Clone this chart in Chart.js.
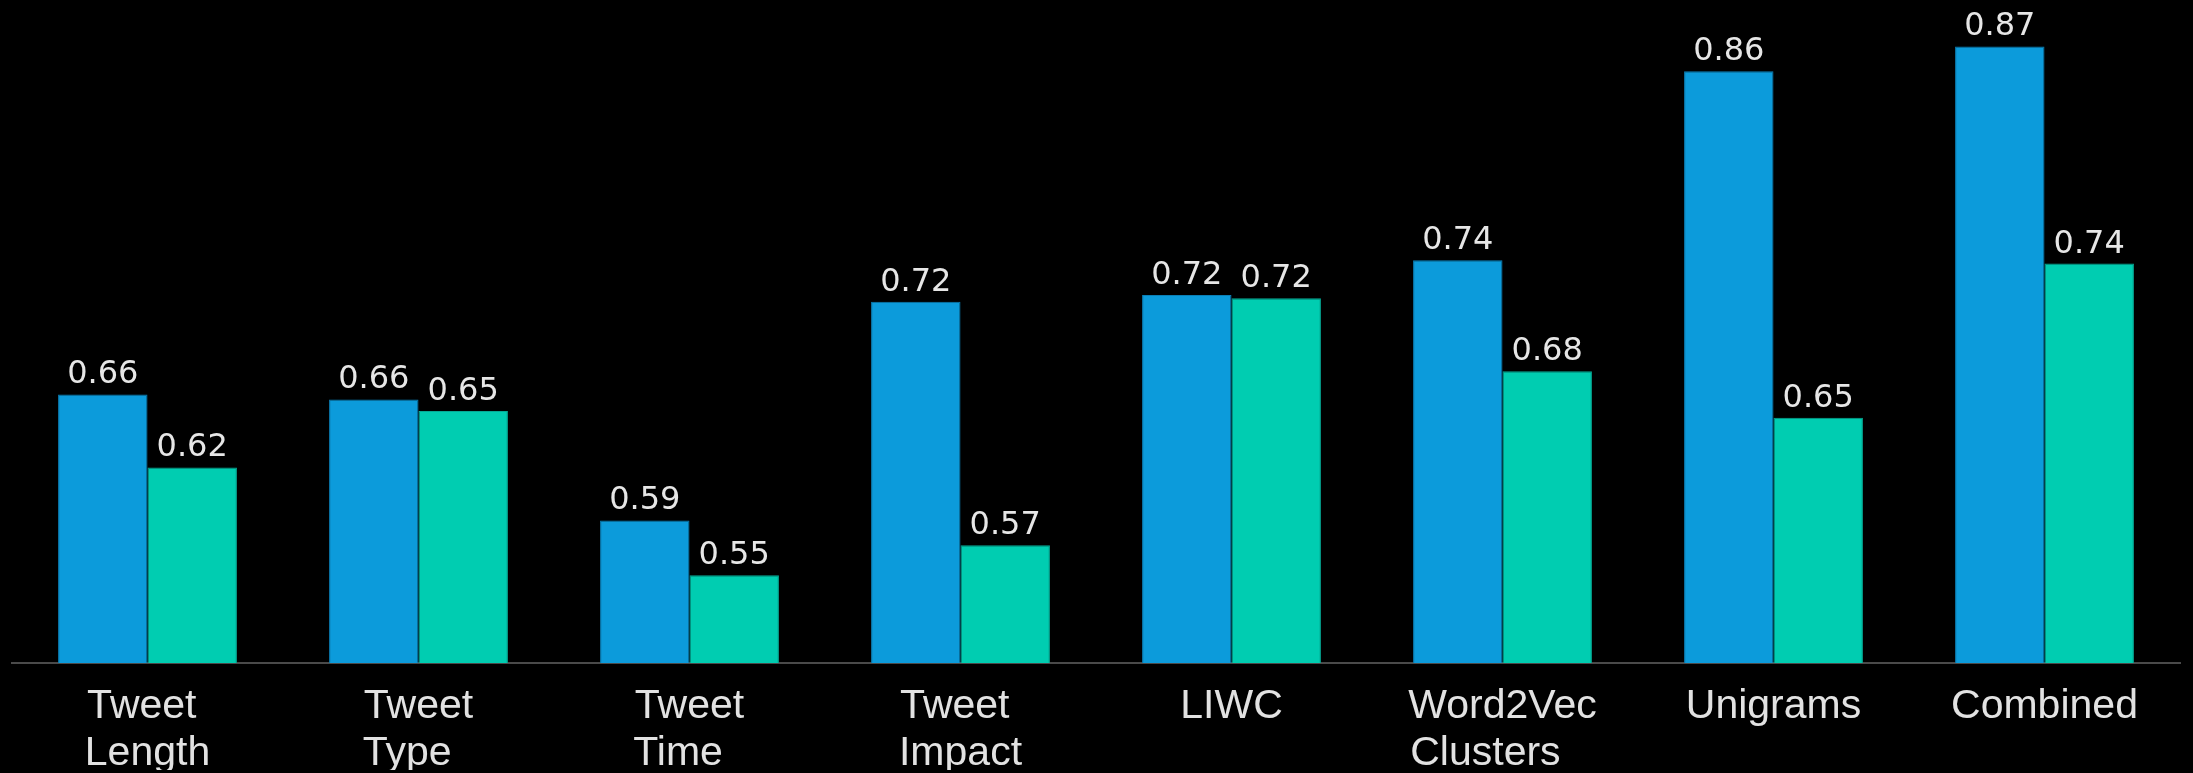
<!DOCTYPE html>
<html>
<head>
<meta charset="utf-8">
<script src="https://cdn.jsdelivr.net/npm/chart.js@4.4.1/dist/chart.umd.min.js"></script>
<style>
  html, body { margin: 0; padding: 0; background: #000; }
  #wrap { width: 2193px; height: 773px; }
</style>
</head>
<body>
<div id="wrap"><canvas id="c" width="2193" height="773"></canvas></div>
<script>
const categories = [
  ["Tweet", "Length"],
  ["Tweet", "Type"],
  ["Tweet", "Time"],
  ["Tweet", "Impact"],
  "LIWC",
  ["Word2Vec", "Clusters"],
  "Unigrams",
  "Combined"
];
const seriesA = [0.662, 0.659, 0.586, 0.718, 0.722, 0.743, 0.857, 0.872];
const seriesB = [0.618, 0.652, 0.553, 0.571, 0.720, 0.676, 0.648, 0.741];

const labelFont = '41px "Liberation Sans", Arial, sans-serif';
const measureCtx = document.createElement('canvas').getContext('2d');
measureCtx.font = labelFont;
function leftAlignLines(lines) {
  if (!Array.isArray(lines)) return lines;
  const w = lines.map(l => measureCtx.measureText(l).width);
  const max = Math.max(...w);
  const sp = measureCtx.measureText(' ').width;
  return lines.map((l, i) => l + ' '.repeat(Math.round((max - w[i]) / sp)));
}

const valueLabels = {
  id: 'valueLabels',
  afterDatasetsDraw(chart) {
    const ctx = chart.ctx;
    ctx.save();
    ctx.font = '32px "DejaVu Sans", sans-serif';
    ctx.fillStyle = '#e6e6e6';
    ctx.textAlign = 'center';
    ctx.textBaseline = 'alphabetic';
    chart.data.datasets.forEach((ds, di) => {
      const meta = chart.getDatasetMeta(di);
      meta.data.forEach((el, i) => {
        ctx.fillText(ds.data[i].toFixed(2), el.x, el.y - 11);
      });
    });
    ctx.restore();
  }
};

new Chart(document.getElementById('c'), {
  type: 'bar',
  data: {
    labels: categories,
    datasets: [
      { data: seriesA, backgroundColor: '#0c9bdb', borderColor: '#0a7fb6', borderWidth: 1,
        barPercentage: 1.0, categoryPercentage: 0.66 },
      { data: seriesB, backgroundColor: '#00cdb1', borderColor: '#05a995', borderWidth: 1,
        barPercentage: 1.0, categoryPercentage: 0.66 }
    ]
  },
  options: {
    responsive: false,
    animation: false,
    devicePixelRatio: 1,
    layout: { padding: { left: 12, right: 13, top: 0, bottom: 3 } },
    plugins: { legend: { display: false }, tooltip: { enabled: false } },
    scales: {
      x: {
        grid: { display: false },
        border: { display: true, color: '#4a4a4a', width: 2 },
        ticks: {
          color: '#e2e2e2',
          font: { family: '"Liberation Sans", Arial, sans-serif', size: 41, lineHeight: 1.15 },
          padding: 12,
          maxRotation: 0,
          autoSkip: false,
          callback: function (v, i) { return leftAlignLines(categories[i]); }
        },
        afterFit: function (scale) { scale.height = 107; }
      },
      y: {
        display: false,
        min: 0.5,
        max: 0.9
      }
    }
  },
  plugins: [valueLabels]
});
</script>
</body>
</html>
